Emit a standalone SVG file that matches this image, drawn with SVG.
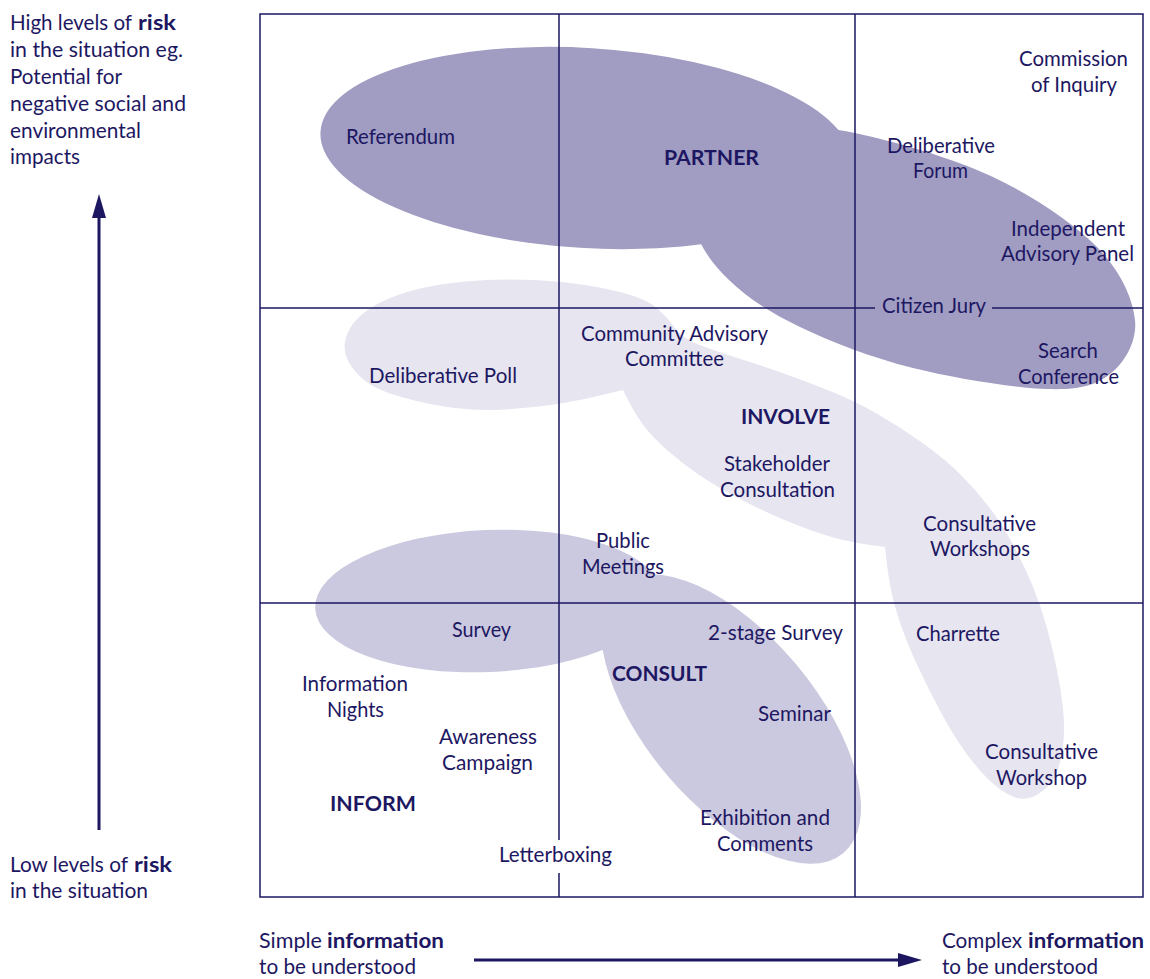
<svg xmlns="http://www.w3.org/2000/svg" width="1150" height="979" viewBox="0 0 1150 979">
<style>
text{font-family:Lato,"Open Sans","Liberation Sans",sans-serif;font-size:20.5px;fill:#1d1762}
.ax{font-size:21px}
.b{font-weight:700}
.grid{stroke:#1d1762;stroke-width:1.5;fill:none}
.partner{fill:#a09cc2}
.involve{fill:#e6e5f0}
.consult{fill:#cbc9df}
.axis{stroke:#1d1762;stroke-width:3;fill:none}
</style>
<defs>
<marker id="ah" markerUnits="userSpaceOnUse" markerWidth="24" markerHeight="14" viewBox="0 0 24 14" refX="0" refY="7" orient="auto">
<path d="M0,0 L24,7 L0,14 Z" fill="#1d1762"/>
</marker>
</defs>
<rect width="1150" height="979" fill="#fff"/>
<g id="shapes">
<g id="partner-area">
<ellipse class="partner" cx="586" cy="148" rx="266" ry="100" transform="rotate(3.5 586 148)"/>
<path class="partner" d="M760,128 C784.2,123.5 816.2,124.8 855,133 C893.8,141.2 952.7,158 993,177 C1033.3,196 1073.3,223.2 1097,247 C1120.7,270.8 1132.8,298.8 1135,320 C1137.2,341.2 1124.7,362.5 1110,374 C1095.3,385.5 1079.8,390 1047,389 C1014.2,388 954.2,378.3 913,368 C871.8,357.7 830.7,341.7 800,327 C769.3,312.3 746.5,297 729,280 C711.5,263 698.2,245 695,225 C691.8,205 699.2,176.2 710,160 C720.8,143.8 735.8,132.5 760,128 Z"/>
</g>
<g id="involve-area">
<path class="involve" d="M885,547 Q888,577 892,594.5 Q896,612 903,631 Q910,650 920,671 Q930,692 941,712.5 Q952,733 963.5,749.5 Q975,766 987,778 Q999,790 1011.5,796 Q1024,802 1036.5,795 Q1049,788 1055,776 Q1061,764 1063,746 Q1065,728 1063,709 Q1061,690 1057,670 Q1053,650 1047,628 Q1041,606 1032.5,585.5 Q1024,565 1013,544.5 Q1002,524 989,507 Q976,490 960.5,474.5 Q945,459 922.5,443 Q900,427 877.5,414 Q855,401 830,391 Q805,381 782.5,373 Q760,365 737.5,358 Q715,351 698.5,344.5 Q682,338 675,328 Q668,318 658,309 Q648,300 629,294.5 Q610,289 585,285 Q560,281 535,280 Q510,279 486.5,280 Q463,281 440.5,284.5 Q418,288 398,295 Q378,302 365,312 Q352,322 347,334.5 Q342,347 347,358.5 Q352,370 364,380 Q376,390 403,397.5 Q430,405 455,408 Q480,411 505,409.5 Q530,408 554,404.5 Q578,401 623,390 Q633,411 642.5,424 Q652,437 667.5,450.5 Q683,464 700,475.5 Q717,487 742,500 Q767,513 792,523 Q817,533 835,538 Q853,543 885,547 Z"/>
</g>
<g id="consult-area">
<ellipse class="consult" cx="488" cy="601" rx="173" ry="71" transform="rotate(-2.5 488 601)"/>
<ellipse class="consult" cx="731" cy="719" rx="175" ry="85" transform="rotate(50 731 719)"/>
</g>
</g>
<g id="grid">
<rect class="grid" x="260" y="14" width="883" height="883"/>
<path class="grid" d="M559,14 V840 M559,873 V897 M855,14 V897 M260,308 H875 M992,308 H1143 M260,603 H1143"/>
</g>
<g id="connectors">
<line class="axis" x1="99" y1="830" x2="99" y2="218" marker-end="url(#ah)"/>
<line class="axis" x1="474" y1="960" x2="898" y2="960" marker-end="url(#ah)"/>
</g>
<g id="axis-labels">
<g id="high-risk">
<text class="ax"><tspan x="10" y="30" textLength="122" lengthAdjust="spacingAndGlyphs">High levels of</tspan><tspan class="b" x="138" y="30" textLength="38" lengthAdjust="spacingAndGlyphs">risk</tspan><tspan x="10" y="57" textLength="173" lengthAdjust="spacingAndGlyphs">in the situation eg.</tspan><tspan x="10" y="84" textLength="112" lengthAdjust="spacingAndGlyphs">Potential for</tspan><tspan x="10" y="111" textLength="176" lengthAdjust="spacingAndGlyphs">negative social and</tspan><tspan x="10" y="138" textLength="131" lengthAdjust="spacingAndGlyphs">environmental</tspan><tspan x="10" y="164" textLength="70" lengthAdjust="spacingAndGlyphs">impacts</tspan></text>
</g>
<g id="low-risk">
<text class="ax"><tspan x="10" y="872" textLength="118" lengthAdjust="spacingAndGlyphs">Low levels of</tspan><tspan class="b" x="134" y="872" textLength="38" lengthAdjust="spacingAndGlyphs">risk</tspan><tspan x="10" y="898" textLength="138" lengthAdjust="spacingAndGlyphs">in the situation</tspan></text>
</g>
<g id="simple-info">
<text class="ax"><tspan x="259" y="948" textLength="63" lengthAdjust="spacingAndGlyphs">Simple</tspan><tspan class="b" x="327" y="948" textLength="117" lengthAdjust="spacingAndGlyphs">information</tspan><tspan x="259" y="974" textLength="157" lengthAdjust="spacingAndGlyphs">to be understood</tspan></text>
</g>
<g id="complex-info">
<text class="ax"><tspan x="942" y="948" textLength="80" lengthAdjust="spacingAndGlyphs">Complex</tspan><tspan class="b" x="1028" y="948" textLength="116" lengthAdjust="spacingAndGlyphs">information</tspan><tspan x="942" y="974" textLength="156" lengthAdjust="spacingAndGlyphs">to be understood</tspan></text>
</g>
</g>
<g id="labels">
<g id="commission-of-inquiry"><text><tspan x="1019" y="66" textLength="109" lengthAdjust="spacingAndGlyphs">Commission</tspan><tspan x="1031" y="92" textLength="86" lengthAdjust="spacingAndGlyphs">of Inquiry</tspan></text></g>
<g id="referendum"><text x="346" y="144" textLength="109" lengthAdjust="spacingAndGlyphs">Referendum</text></g>
<g id="partner"><text class="b" x="664" y="165" textLength="95" lengthAdjust="spacingAndGlyphs">PARTNER</text></g>
<g id="deliberative-forum"><text><tspan x="887" y="153" textLength="108" lengthAdjust="spacingAndGlyphs">Deliberative</tspan><tspan x="913" y="178" textLength="55" lengthAdjust="spacingAndGlyphs">Forum</tspan></text></g>
<g id="independent-advisory-panel"><text><tspan x="1011" y="236" textLength="114" lengthAdjust="spacingAndGlyphs">Independent</tspan><tspan x="1001" y="261" textLength="133" lengthAdjust="spacingAndGlyphs">Advisory Panel</tspan></text></g>
<g id="citizen-jury"><text x="882" y="313" textLength="104" lengthAdjust="spacingAndGlyphs">Citizen Jury</text></g>
<g id="search-conference"><text><tspan x="1038" y="358" textLength="60" lengthAdjust="spacingAndGlyphs">Search</tspan><tspan x="1018" y="384" textLength="101" lengthAdjust="spacingAndGlyphs">Conference</tspan></text></g>
<g id="community-advisory-committee"><text><tspan x="581" y="341" textLength="187" lengthAdjust="spacingAndGlyphs">Community Advisory</tspan><tspan x="625" y="366" textLength="99" lengthAdjust="spacingAndGlyphs">Committee</tspan></text></g>
<g id="deliberative-poll"><text x="369" y="383" textLength="148" lengthAdjust="spacingAndGlyphs">Deliberative Poll</text></g>
<g id="involve"><text class="b" x="741" y="424" textLength="89" lengthAdjust="spacingAndGlyphs">INVOLVE</text></g>
<g id="stakeholder-consultation"><text><tspan x="724" y="471" textLength="106" lengthAdjust="spacingAndGlyphs">Stakeholder</tspan><tspan x="720" y="497" textLength="115" lengthAdjust="spacingAndGlyphs">Consultation</tspan></text></g>
<g id="consultative-workshops"><text><tspan x="923" y="531" textLength="113" lengthAdjust="spacingAndGlyphs">Consultative</tspan><tspan x="930" y="556" textLength="100" lengthAdjust="spacingAndGlyphs">Workshops</tspan></text></g>
<g id="public-meetings"><text><tspan x="596" y="548" textLength="54" lengthAdjust="spacingAndGlyphs">Public</tspan><tspan x="582" y="574" textLength="82" lengthAdjust="spacingAndGlyphs">Meetings</tspan></text></g>
<g id="survey"><text x="452" y="637" textLength="59" lengthAdjust="spacingAndGlyphs">Survey</text></g>
<g id="two-stage-survey"><text x="708" y="640" textLength="135" lengthAdjust="spacingAndGlyphs">2-stage Survey</text></g>
<g id="charrette"><text x="916" y="641" textLength="84" lengthAdjust="spacingAndGlyphs">Charrette</text></g>
<g id="consult"><text class="b" x="612" y="681" textLength="95" lengthAdjust="spacingAndGlyphs">CONSULT</text></g>
<g id="information-nights"><text><tspan x="302" y="691" textLength="106" lengthAdjust="spacingAndGlyphs">Information</tspan><tspan x="327" y="717" textLength="57" lengthAdjust="spacingAndGlyphs">Nights</tspan></text></g>
<g id="seminar"><text x="758" y="721" textLength="73" lengthAdjust="spacingAndGlyphs">Seminar</text></g>
<g id="awareness-campaign"><text><tspan x="439" y="744" textLength="98" lengthAdjust="spacingAndGlyphs">Awareness</tspan><tspan x="442" y="770" textLength="91" lengthAdjust="spacingAndGlyphs">Campaign</tspan></text></g>
<g id="consultative-workshop"><text><tspan x="985" y="759" textLength="113" lengthAdjust="spacingAndGlyphs">Consultative</tspan><tspan x="996" y="785" textLength="91" lengthAdjust="spacingAndGlyphs">Workshop</tspan></text></g>
<g id="inform"><text class="b" x="330" y="811" textLength="86" lengthAdjust="spacingAndGlyphs">INFORM</text></g>
<g id="exhibition-and-comments"><text><tspan x="700" y="825" textLength="130" lengthAdjust="spacingAndGlyphs">Exhibition and</tspan><tspan x="717" y="851" textLength="96" lengthAdjust="spacingAndGlyphs">Comments</tspan></text></g>
<g id="letterboxing"><text x="499" y="862" textLength="113" lengthAdjust="spacingAndGlyphs">Letterboxing</text></g>
</g>
</svg>
